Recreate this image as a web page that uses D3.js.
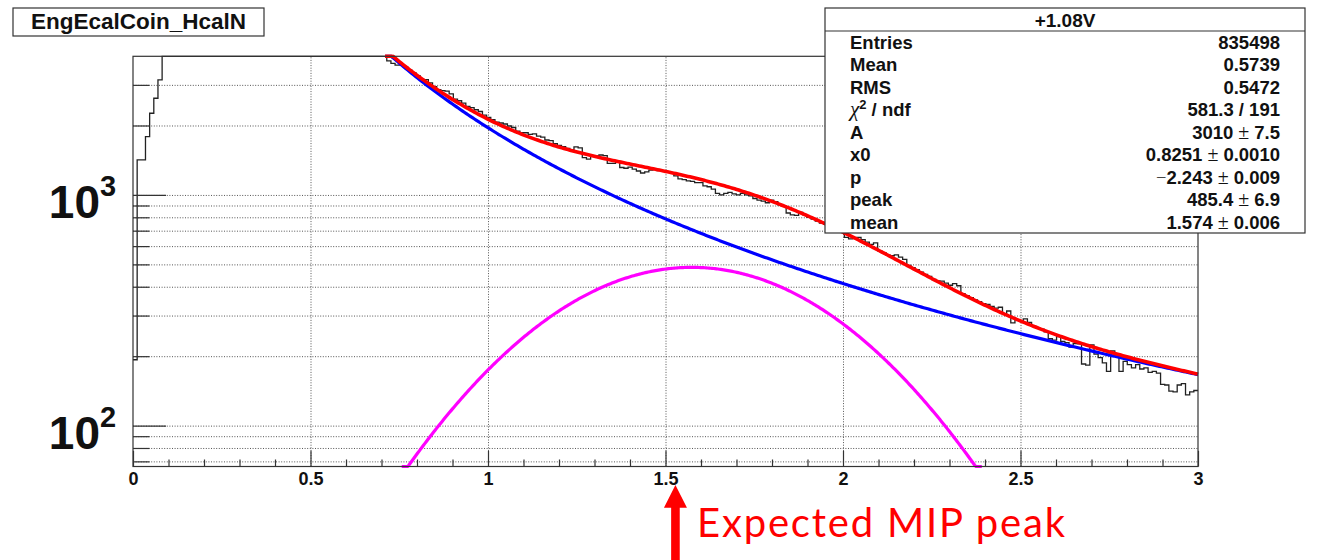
<!DOCTYPE html>
<html>
<head>
<meta charset="utf-8">
<script src="https://cdn.jsdelivr.net/npm/d3@7"></script>
<style>
  body { margin: 0; background: #fff; }
  svg { display: block; }
</style>
</head>
<body>
<svg id="chart" width="1319" height="560"></svg>
<script>
// ---- histogram: EngEcalCoin_HcalN, 256 bins on [0, 3] ----
const histTitle = "EngEcalCoin_HcalN";
const histRange = [0, 3];
const binCounts = [
  193, 1418, 1418, 1789, 2260, 2625, 3152, 4600, 6800, 9500,
  12500, 15500, 18000, 19500, 20000, 19600, 18600, 17400, 16200, 15000,
  13900, 12900, 12000, 11200, 10500, 9900, 9300, 8800, 8350, 7950,
  7600, 7250, 6950, 6700, 6450, 6250, 6050, 5870, 5700, 5550,
  5400, 5270, 5150, 5040, 4940, 4850, 4770, 4700, 4640, 4590,
  4540, 4500, 4460, 4430, 4400, 4370, 4340, 4310, 4270, 4230,
  4200, 3810, 3720, 3650, 3660, 3590, 3480, 3390, 3290, 3170,
  3160, 3060, 2950, 2860, 2830, 2820, 2740, 2600, 2560, 2500,
  2420, 2390, 2340, 2300, 2220, 2170, 2120, 2070, 2050, 2030,
  1990, 1960, 1890, 1860, 1860, 1830, 1840, 1800, 1780, 1730,
  1720, 1670, 1640, 1620, 1590, 1570, 1615, 1600, 1450, 1430,
  1480, 1475, 1490, 1480, 1370, 1370, 1400, 1315, 1305, 1320,
  1295, 1270, 1245, 1260, 1280, 1290, 1275, 1270, 1255, 1250,
  1210, 1175, 1165, 1150, 1145, 1130, 1130, 1095, 1085, 1060,
  1015, 1000, 1015, 1025, 1010, 1000, 1015, 1000, 990, 965,
  950, 940, 925, 950, 935, 905, 895, 835, 820, 815,
  840, 820, 800, 785, 770, 755, 745, 735, 715, 700,
  690, 655, 645, 650, 655, 640, 625, 610, 620, 572,
  562, 548, 545, 550, 538, 526, 495, 484, 474, 463,
  452, 444, 430, 424, 423, 415, 406, 413, 404, 373,
  366, 359, 351, 345, 338, 335, 329, 323, 326, 305,
  314, 279, 288, 283, 290, 280, 270, 265, 262, 255,
  238, 235, 243, 232, 229, 219, 227, 226, 185, 183,
  224, 204, 197, 187, 172, 211, 204, 172, 190, 184,
  178, 184, 176, 178, 170, 172, 169, 151, 150, 141,
  140, 150, 152, 136, 140, 142
];

// ---- fit: power-law background + gaussian MIP peak ----
const fitA = 3010;
const fitX0 = 0.8251;
const fitP = -2.243;
const fitPeak = 485.4;
const fitMean = 1.574;
const gaussSigma = 0.401;
const fitRange = [0.71, 3.0];
const gaussRange = [0.757, 2.391];

// ---- axes ----
const yRange = [66.5, 3990];
const xMajorTicks = [0, 0.5, 1, 1.5, 2, 2.5, 3];
const xTickLabels = ["0", "0.5", "1", "1.5", "2", "2.5", "3"];
const xMinorTicks = [0.1, 0.2, 0.3, 0.4, 0.6, 0.7, 0.8, 0.9, 1.1, 1.2, 1.3, 1.4, 1.6, 1.7, 1.8, 1.9,
                     2.1, 2.2, 2.3, 2.4, 2.6, 2.7, 2.8, 2.9];
const xGridTicks = [0.5, 1, 1.5, 2, 2.5];
const yMajorTicks = [100, 1000];
const yMajorExponents = ["2", "3"];
const yMinorTicks = [70, 80, 90, 200, 300, 400, 500, 600, 700, 800, 900, 2000, 3000];

// ---- statistics box ----
const statsTitle = "+1.08V";
const statsLabels = ["Entries", "Mean", "RMS", "chi2", "A", "x0", "p", "peak", "mean"];
const statsValues = ["835498", "0.5739", "0.5472", "581.3 / 191", "3010", "0.8251", "\u22122.243", "485.4", "1.574"];
const statsErrors = [null, null, null, null, "7.5", "0.0010", "0.009", "6.9", "0.006"];

// ---- annotation ----
const noteText = "Expected MIP peak";
const noteX = 1.528;

// ================= drawing =================
const svg = d3.select("#chart");
const frame = { left: 133, right: 1198, top: 56.3, bottom: 466.5 };
const sans = "'Liberation Sans', Arial, Helvetica, sans-serif";
const serif = "'Liberation Serif', 'Times New Roman', serif";

const x = d3.scaleLinear().domain(histRange).range([frame.left, frame.right]);
const y = d3.scaleLog().domain(yRange).range([frame.bottom, frame.top]);
const yc = v => y(Math.max(yRange[0], Math.min(yRange[1], v)));

svg.append("rect").attr("width", 1319).attr("height", 560).attr("fill", "#fff");

// grid
const gridStyle = g => {
  g.select(".domain").remove();
  g.selectAll("line").attr("stroke", "#555").attr("stroke-width", 1).attr("stroke-dasharray", "1,1.6");
};
svg.append("g")
  .attr("transform", `translate(0,${frame.bottom})`)
  .call(d3.axisBottom(x).tickValues(xGridTicks).tickSize(-(frame.bottom - frame.top)).tickFormat(""))
  .call(gridStyle);
svg.append("g")
  .attr("transform", `translate(${frame.left},0)`)
  .call(d3.axisLeft(y).tickValues(yMinorTicks.concat(yMajorTicks)).tickSize(-(frame.right - frame.left)).tickFormat(""))
  .call(gridStyle);

// histogram outline
const nBins = binCounts.length;
const binW = (histRange[1] - histRange[0]) / nBins;
const histPts = binCounts.map((c, i) => [histRange[0] + i * binW, c]);
histPts.push([histRange[1], binCounts[nBins - 1]]);
svg.append("path")
  .datum(histPts)
  .attr("fill", "none")
  .attr("stroke", "#222")
  .attr("stroke-width", 1.3)
  .attr("d", d3.line().x(d => x(d[0])).y(d => yc(d[1])).curve(d3.curveStepAfter));

// fit components
const background = t => fitA * Math.pow(t / fitX0, fitP);
const gauss = t => fitPeak * Math.exp(-((t - fitMean) ** 2) / (2 * gaussSigma * gaussSigma));
const total = t => background(t) + gauss(t);
const sample = (fn, r, n) => d3.range(n + 1).map(k => {
  const t = r[0] + (r[1] - r[0]) * k / n;
  return [t, fn(t)];
});
const curve = d3.line().x(d => x(d[0])).y(d => yc(d[1]));

svg.append("path").datum(sample(background, fitRange, 400))
  .attr("fill", "none").attr("stroke", "#0000ff").attr("stroke-width", 3.2).attr("d", curve);
svg.append("path").datum(sample(gauss, gaussRange, 400))
  .attr("fill", "none").attr("stroke", "#ff00ff").attr("stroke-width", 3.2).attr("d", curve);
svg.append("path").datum(sample(total, fitRange, 400))
  .attr("fill", "none").attr("stroke", "#ff0000").attr("stroke-width", 3.6).attr("d", curve);

// frame
svg.append("rect")
  .attr("x", frame.left).attr("y", frame.top)
  .attr("width", frame.right - frame.left).attr("height", frame.bottom - frame.top)
  .attr("fill", "none").attr("stroke", "#333").attr("stroke-width", 1.2);

// ticks
const tickStyle = g => {
  g.select(".domain").remove();
  g.selectAll("line").attr("stroke", "#333").attr("stroke-width", 1.2);
};
svg.append("g")
  .attr("transform", `translate(0,${frame.bottom})`)
  .call(d3.axisBottom(x).tickValues(xMinorTicks).tickSizeInner(-7).tickSizeOuter(0).tickFormat(""))
  .call(tickStyle);
const xAxis = svg.append("g")
  .attr("transform", `translate(0,${frame.bottom})`)
  .call(d3.axisBottom(x).tickValues(xMajorTicks).tickSizeInner(-15.7).tickSizeOuter(0)
    .tickPadding(5.7).tickFormat((d, i) => xTickLabels[i]))
  .call(tickStyle);
xAxis.selectAll("text")
  .attr("font-family", sans).attr("font-weight", "bold").attr("font-size", 18).attr("fill", "#111");

svg.append("g")
  .attr("transform", `translate(${frame.left},0)`)
  .call(d3.axisLeft(y).tickValues(yMinorTicks).tickSizeInner(-16.5).tickSizeOuter(0).tickFormat(""))
  .call(tickStyle);
svg.append("g")
  .attr("transform", `translate(${frame.left},0)`)
  .call(d3.axisLeft(y).tickValues(yMajorTicks).tickSizeInner(-33).tickSizeOuter(0).tickFormat(""))
  .call(tickStyle);

// y labels: 10^n
yMajorTicks.forEach((v, i) => {
  svg.append("text")
    .attr("x", 100).attr("y", y(v) + 23)
    .attr("text-anchor", "end")
    .attr("font-family", sans).attr("font-weight", "bold").attr("font-size", 46).attr("fill", "#111")
    .text("10");
  svg.append("text")
    .attr("x", 100).attr("y", y(v) + 1.5)
    .attr("font-family", sans).attr("font-weight", "bold").attr("font-size", 29).attr("fill", "#111")
    .text(yMajorExponents[i]);
});

// statistics box
const box = { left: 825, top: 8, right: 1305, bottom: 233, head: 31 };
svg.append("rect")
  .attr("x", box.left).attr("y", box.top)
  .attr("width", box.right - box.left).attr("height", box.bottom - box.top)
  .attr("fill", "#fff").attr("stroke", "#333").attr("stroke-width", 1.2);
svg.append("line")
  .attr("x1", box.left).attr("x2", box.right).attr("y1", box.head).attr("y2", box.head)
  .attr("stroke", "#333").attr("stroke-width", 1.2);
svg.append("text")
  .attr("x", (box.left + box.right) / 2).attr("y", 26.7)
  .attr("text-anchor", "middle")
  .attr("font-family", sans).attr("font-weight", "bold").attr("font-size", 19).attr("fill", "#111")
  .text(statsTitle);

const rowH = (box.bottom - box.head) / statsLabels.length;
statsLabels.forEach((lab, i) => {
  const base = box.head + rowH * (i + 0.5) + 6.8;
  const t = svg.append("text")
    .attr("x", 850).attr("y", base)
    .attr("font-family", sans).attr("font-weight", "bold").attr("font-size", 18.5).attr("fill", "#111");
  if (lab === "chi2") {
    t.append("tspan").attr("font-family", serif).attr("font-style", "italic")
      .attr("font-weight", "normal").attr("font-size", 21).text("\u03c7");
    t.append("tspan").attr("font-size", 13).attr("dy", -7.5).text("2");
    t.append("tspan").attr("dy", 7.5).text(" / ndf");
  } else {
    t.text(lab);
  }

  const v = svg.append("text")
    .attr("x", 1280).attr("y", base)
    .attr("text-anchor", "end")
    .attr("font-family", sans).attr("font-weight", "bold").attr("font-size", 18.5).attr("fill", "#111");
  const val = statsValues[i];
  if (val.startsWith("\u2212")) {
    v.append("tspan").attr("font-weight", "normal").attr("font-family", serif).text("\u2212");
    v.append("tspan").text(val.slice(1));
  } else {
    v.append("tspan").text(val);
  }
  if (statsErrors[i] !== null) {
    v.append("tspan").attr("font-weight", "normal").attr("font-family", serif).attr("font-size", 20)
      .text(" \u00b1 ");
    v.append("tspan").text(statsErrors[i]);
  }
});

// title box
svg.append("rect")
  .attr("x", 13).attr("y", 8).attr("width", 251).attr("height", 28)
  .attr("fill", "#fff").attr("stroke", "#333").attr("stroke-width", 1.2);
svg.append("text")
  .attr("x", 138.5).attr("y", 28.5)
  .attr("text-anchor", "middle")
  .attr("font-family", sans).attr("font-weight", "bold").attr("font-size", 22.5).attr("fill", "#111")
  .text(histTitle);

// annotation: arrow pointing at the expected MIP position
const ax = x(noteX);
svg.append("path")
  .attr("fill", "#ff0000")
  .attr("d", `M${ax - 4.3},560 L${ax - 4.3},507.7 L${ax - 11.5},507.7 L${ax},485 ` +
             `L${ax + 11.5},507.7 L${ax + 4.3},507.7 L${ax + 4.3},560 Z`);
svg.append("text")
  .attr("x", 697).attr("y", 537)
  .attr("font-family", "Lato, 'Open Sans', sans-serif").attr("font-size", 40).attr("fill", "#ff0000")
  .attr("textLength", 368).attr("lengthAdjust", "spacing")
  .text(noteText);
</script>
</body>
</html>
